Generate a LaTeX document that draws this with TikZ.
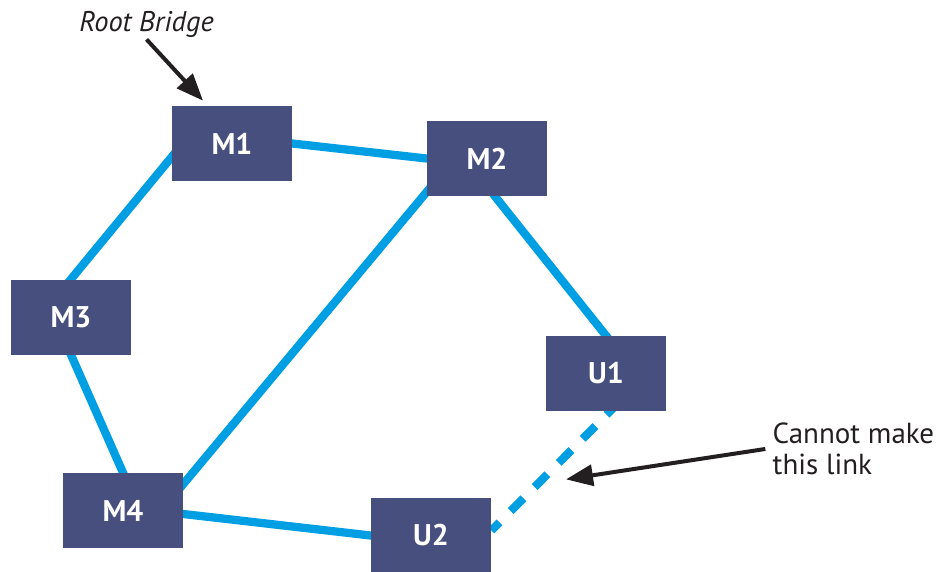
\documentclass[tikz,border=0pt]{standalone}
\usepackage{fontspec}
\setmainfont{PT Sans}
\usetikzlibrary{positioning, arrows.meta, backgrounds}
\definecolor{switchblue}{HTML}{474F7E}
\definecolor{linkblue}{HTML}{009FE3}
\definecolor{notegray}{HTML}{231F20}
\tikzset{
    bridge/.style={rectangle, fill=switchblue, minimum width=2.4cm, minimum height=1.5cm, inner sep=0pt, text=white, font=\bfseries\fontsize{17}{20}\selectfont},
    link/.style={draw=linkblue, line width=0.165cm, shorten <=-6pt, shorten >=-6pt},
    badlink/.style={draw=linkblue, line width=0.165cm, dash pattern=on 0.36cm off 0.32cm},
    note/.style={font=\fontsize{16.5}{17.6}\selectfont, text=notegray, inner sep=0pt, align=left},
    pointer/.style={->, draw=notegray, line width=0.08cm}
}

\begin{document}
\begin{tikzpicture}[
    on grid,
    >={Triangle[length=0.54cm, width=0.42cm]}
]
    \useasboundingbox (-4.64,-8.55) rectangle (14.18,2.87);

    % 1. CAC SWITCH
    \node[bridge] (M1) {M1};
    \node[bridge] (M2) [below right=0.3cm and 5.1cm of M1] {M2};
    \node[bridge] (M3) [below left=3.47cm and 3.22cm of M1] {M3};
    \node[bridge] (M4) [below right=3.87cm and 1.04cm of M3] {M4};
    \node[bridge] (U1) [below right=4.3cm and 2.38cm of M2] {U1};
    \node[bridge] (U2) [below right=0.5cm and 6.16cm of M4] {U2};

    % 2. CAC LINK (nam sau cac hop)
    \begin{scope}[on background layer]
        \draw[link] (M1.east) -- (M2.west);
        \draw[link] ([yshift=-0.27cm]M1.west) -- (M3.north);
        \draw[link] (M3.south) -- (M4.north);
        \draw[link] ([yshift=-0.67cm]M2.west) -- ([yshift=0.53cm]M4.east);
        \draw[link] ([xshift=0.16cm]M2.south) -- (U1.north);
        \draw[link] ([yshift=-0.07cm]M4.east) -- (U2.west);
        \draw[badlink] ([shift={(0.268,0.188)}]U1.south) -- ([yshift=0.1cm]U2.east);
    \end{scope}

    % 3. GHI CHU
    \node[note, font=\fontsize{16.2}{17}\selectfont\itshape, anchor=base west] (root) at ([shift={(-3.06,2.25)}]M1.center) {Root Bridge};
    \draw[pointer] ([yshift=-0.04cm]root.south) -- ([shift={(-0.58,0.1)}]M1.north);

    \node[note, anchor=north west] (cannot) at ([shift={(2.12,-1.74)}]U1.north east) {Cannot make\\this link};
    \coordinate (gap) at ([shift={(-0.8,-1.36)}]U1.south);
    \draw[pointer] ([xshift=-0.14cm]cannot.west) -- (gap);

\end{tikzpicture}
\end{document}
